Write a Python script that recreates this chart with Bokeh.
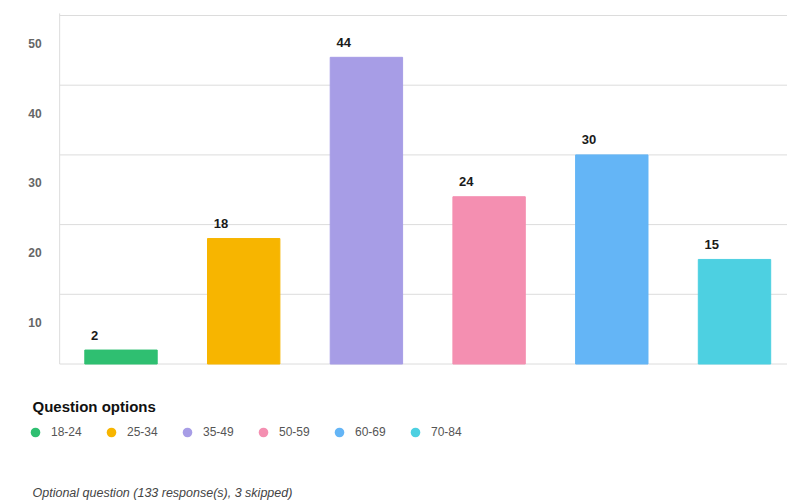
from bokeh.plotting import figure
from bokeh.models import ColumnDataSource, Range1d, Legend, LegendItem, Label
from bokeh.core.properties import value
from bokeh.embed import file_html
from bokeh.resources import INLINE

# ---------------- data ----------------
categories = ["18-24", "25-34", "35-49", "50-59", "60-69", "70-84"]
counts = [2, 18, 44, 24, 30, 15]
colors = ["#2fbf71", "#f7b500", "#a79de6", "#f48fb1", "#64b5f6", "#4dd0e1"]
y_tick_labels = [10, 20, 30, 40, 50]
grid_ticks = [0, 10, 20, 30, 40, 50]
legend_title = "Question options"
footnote = "Optional question (133 response(s), 3 skipped)"

# ---------------- layout constants (pixels) ----------------
FONT = "Liberation Sans"
W, H = 787, 500
ZERO_PX = 363.5        # screen y of value 0
PX_PER_UNIT = 6.97     # pixels per count
FIRST_CENTER_PX = 120.5
PX_PER_CAT = 122.7
AXIS_X = -0.5          # left edge of the first category band
AXIS_TOP = max(grid_ticks) + 0.3

x_range = Range1d(-FIRST_CENTER_PX / PX_PER_CAT, (W - FIRST_CENTER_PX) / PX_PER_CAT)
y_range = Range1d(-(H - ZERO_PX) / PX_PER_UNIT, ZERO_PX / PX_PER_UNIT)

src = ColumnDataSource(dict(
    x=list(range(len(categories))),
    count=counts,
    color=colors,
    label=[str(c) for c in counts],
))
grid_src = ColumnDataSource(dict(
    y=grid_ticks,
    x0=[AXIS_X] * len(grid_ticks),
    x1=[x_range.end] * len(grid_ticks),
))
tick_src = ColumnDataSource(dict(
    y=y_tick_labels,
    x=[AXIS_X] * len(y_tick_labels),
    text=[str(t) for t in y_tick_labels],
))

p = figure(width=W, height=H, x_range=x_range, y_range=y_range,
           output_backend="svg", toolbar_location=None,
           x_axis_location=None, y_axis_location=None,
           min_border_left=0, min_border_right=0, min_border_top=0,
           min_border_bottom=0)
p.outline_line_color = None
p.grid.visible = False

# grid lines and axis line
p.segment(x0="x0", y0="y", x1="x1", y1="y", source=grid_src,
          line_color="#dcdcdc", line_width=1)
p.segment(x0=[AXIS_X], y0=[min(grid_ticks)], x1=[AXIS_X], y1=[AXIS_TOP],
          line_color="#dcdcdc", line_width=1)

# y tick labels (sit below their grid line, as in the original)
p.text(x="x", y="y", text="text", source=tick_src,
       x_offset=-18, y_offset=28, text_align="right", text_baseline="middle",
       text_font=value(FONT), text_font_size="12px", text_font_style="bold",
       text_color="#666666")

# bars and value labels
p.vbar(x="x", top="count", bottom=0, width=0.59, color="color", source=src)
p.text(x="x", y="count", text="label", source=src,
       x_offset=-30, y_offset=-15, text_align="left", text_baseline="middle",
       text_font=value(FONT), text_font_size="13px", text_font_style="bold",
       text_color="#1a1a1a")

# legend
dots = p.scatter(x="x", y="count", source=src, marker="circle", size=0,
                 fill_color="color", line_color=None)
legend = Legend(items=[LegendItem(label=c, renderers=[dots], index=i)
                       for i, c in enumerate(categories)],
                orientation="horizontal", location=(23, 56),
                glyph_width=24, glyph_height=24, label_standoff=4,
                label_width=31, spacing=17, padding=0, margin=0,
                border_line_color=None, background_fill_alpha=0,
                label_text_font=FONT, label_text_font_size="12px",
                label_text_color="#555555", label_text_baseline="middle")
p.add_layout(legend, "center")

p.add_layout(Label(x=32, y=94, x_units="screen", y_units="screen",
                   text=legend_title, text_baseline="middle",
                   text_font=FONT, text_font_size="15px", text_font_style="bold",
                   text_color="#111111"))
p.add_layout(Label(x=32, y=8, x_units="screen", y_units="screen",
                   text=footnote, text_baseline="middle",
                   text_font=FONT, text_font_size="12.5px", text_font_style="italic",
                   text_color="#444444"))

open("out.html", "w").write(file_html(p, INLINE))
